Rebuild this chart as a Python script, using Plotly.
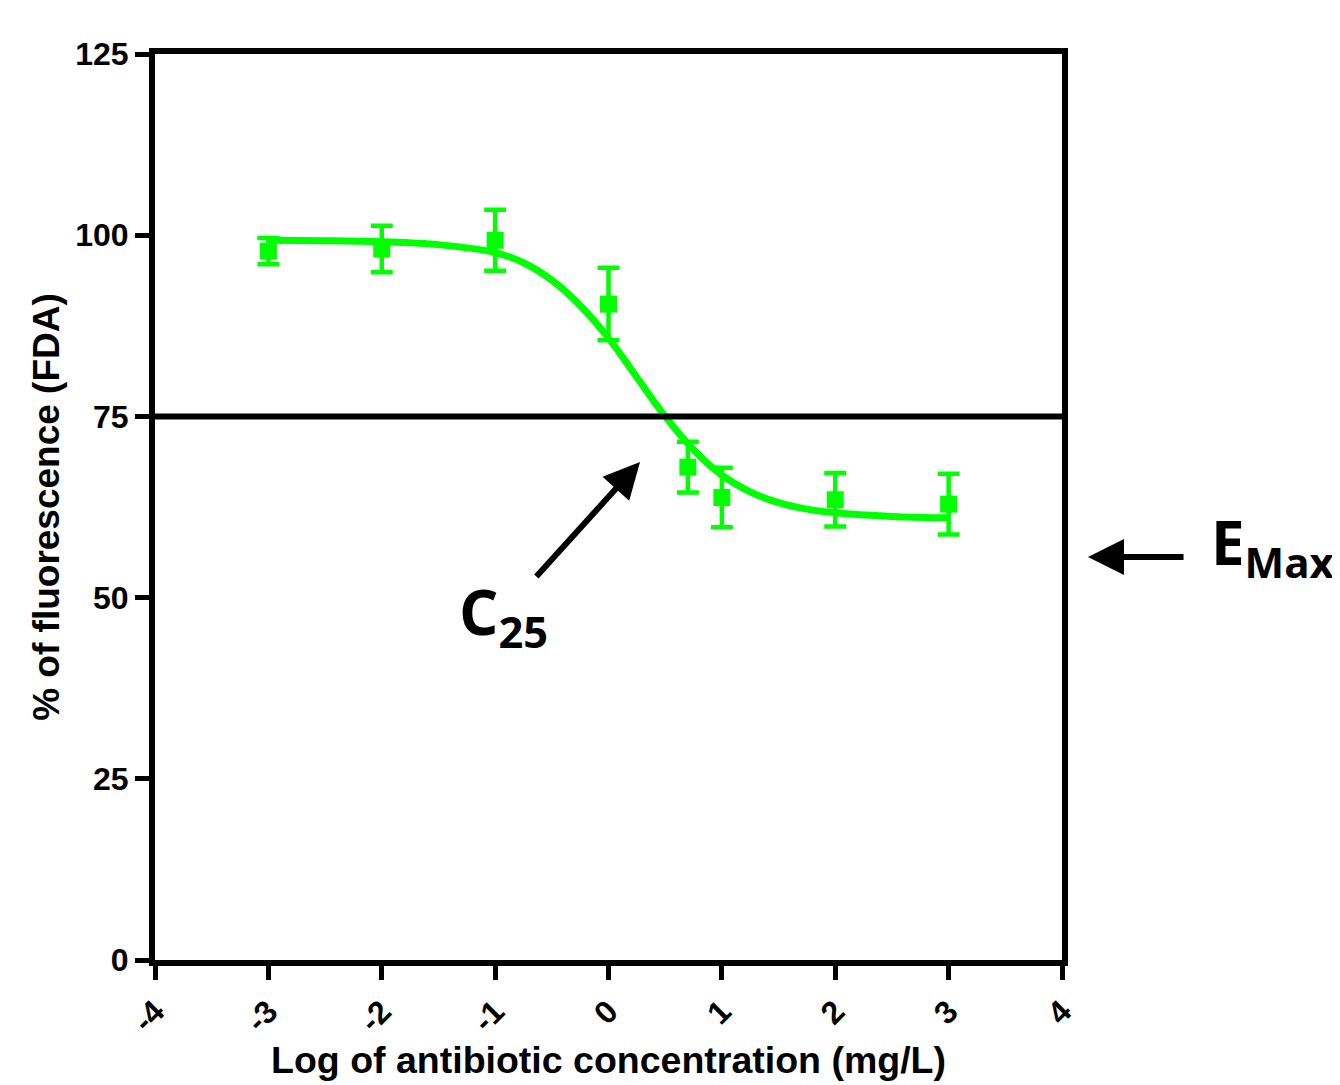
import plotly.graph_objects as go

# Measured points
conc_log = [-3, -2, -1, 0, 0.7, 1, 2, 3]
fluor_pct = [97.8, 98.1, 99.3, 90.5, 68.0, 63.8, 63.5, 62.9]
fluor_err = [1.8, 3.2, 4.2, 5.0, 3.5, 4.1, 3.7, 4.2]

# Fitted curve
curve_x = [-3, -2.5, -2, -1.5, -1, -0.75, -0.5, -0.25, 0, 0.25, 0.5, 0.75,
           1, 1.25, 1.5, 1.75, 2, 2.5, 3]
curve_y = [99.3, 99.25, 99.1, 98.7, 97.6, 96.2, 93.8, 90.3, 85.8, 80.4, 75.0,
           70.4, 66.9, 64.6, 63.1, 62.2, 61.7, 61.2, 61.0]

x_ticks = [-4, -3, -2, -1, 0, 1, 2, 3, 4]
y_ticks = [0, 25, 50, 75, 100, 125]
threshold = 75

GREEN = "#00FF00"
FONT = "Liberation Sans, Arial, sans-serif"
LABEL_FONT = "Open Sans, sans-serif"

fig = go.Figure()
fig.add_trace(go.Scatter(x=curve_x, y=curve_y, mode="lines",
                         line=dict(color=GREEN, width=7, shape="spline"),
                         showlegend=False, hoverinfo="skip"))
fig.add_trace(go.Scatter(x=conc_log, y=fluor_pct, mode="markers",
                         marker=dict(symbol="square", size=17, color=GREEN),
                         error_y=dict(type="data", array=fluor_err, color=GREEN,
                                      thickness=4.5, width=11),
                         showlegend=False))

fig.add_shape(type="line", xref="x", yref="y", x0=-4, x1=4, y0=threshold, y1=threshold,
              line=dict(color="black", width=6))

# C25 arrow and label
fig.add_annotation(x=0.278, y=68.7, xref="x", yref="y", text="", showarrow=True,
                   ax=-105, ay=116, arrowhead=2, arrowsize=1.2, arrowwidth=6,
                   arrowcolor="black")
fig.add_annotation(x=-0.93, y=47.6, xref="x", yref="y",
                   text="<b>C<sub>25</sub></b>", showarrow=False,
                   font=dict(family=LABEL_FONT, size=62, color="black"),
                   xanchor="center", yanchor="middle")
# EMax arrow and label (outside plot area)
fig.add_annotation(x=1.0287, y=0.4448, xref="paper", yref="paper", text="", showarrow=True,
                   ax=97, ay=0, arrowhead=2, arrowsize=1.2, arrowwidth=6,
                   arrowcolor="black")
fig.add_annotation(x=1.162, y=0.458, xref="paper", yref="paper",
                   text="<b>E<sub>Max</sub></b>", showarrow=False,
                   font=dict(family=LABEL_FONT, size=60, color="black"),
                   xanchor="left", yanchor="middle")

axis_common = dict(showgrid=False, zeroline=False, showline=True, linecolor="black",
                   linewidth=6, mirror=True, ticks="outside", ticklen=14,
                   tickwidth=5, tickcolor="black",
                   tickfont=dict(family=FONT, size=32, color="black", weight="bold"))

fig.update_layout(
    width=1340, height=1085,
    margin=dict(l=147, r=286, t=46, b=133),
    plot_bgcolor="white", paper_bgcolor="white",
    xaxis=dict(range=[-4, 4], tickvals=x_ticks, ticktext=[str(v) for v in x_ticks],
               tickangle=-45,
               title=dict(text="<b>Log of antibiotic concentration (mg/L)</b>",
                          font=dict(family=FONT, size=37.5, color="black"), standoff=10),
               **axis_common),
    yaxis=dict(range=[0, 125], tickvals=y_ticks,
               title=dict(text="<b>% of fluorescence (FDA)</b>",
                          font=dict(family=FONT, size=37, color="black"), standoff=6),
               **axis_common),
)
fig.write_html("out.html")
